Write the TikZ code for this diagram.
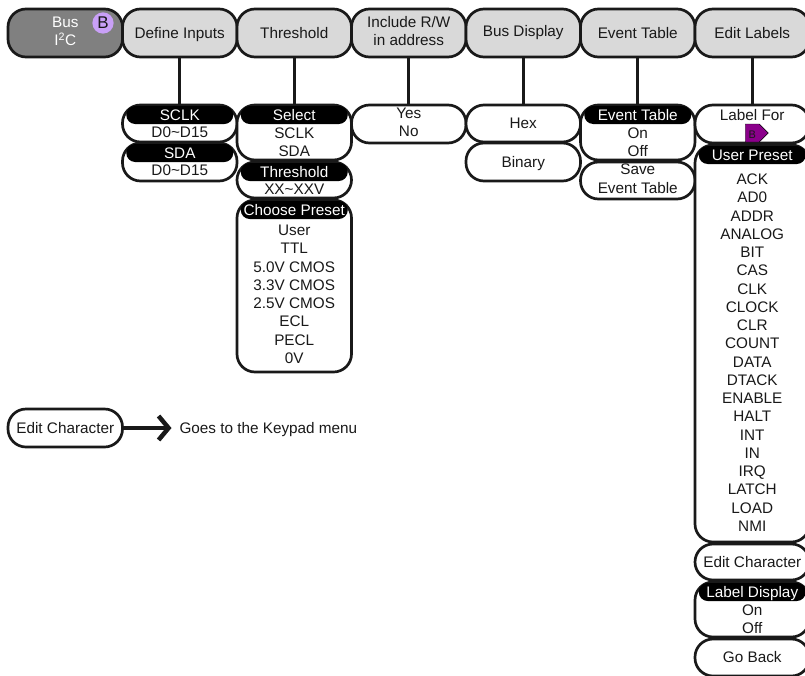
\documentclass[tikz,border=0pt]{standalone}
\usepackage{fontspec}
\setmainfont{Liberation Sans}
\usepackage{tikz}
\usetikzlibrary{positioning,shapes.symbols,arrows.meta}

\newcommand{\mstrut}{\rule[-3.6pt]{0pt}{18pt}}
\definecolor{btngray}{HTML}{D9D9D9}
\definecolor{busgray}{HTML}{808080}
\definecolor{badgepurple}{HTML}{C9A0F7}
\definecolor{tagpurple}{HTML}{8B008B}

\tikzset{
	txt/.style={inner sep=0pt, outer sep=0pt, align=center, text=black!90,
		font=\fontsize{15.3}{18.25}\selectfont, execute at begin node=\mstrut, execute at end node=\mstrut},
	btn/.style={txt, draw=black!90, line width=2.7pt, rounded corners=18pt, fill=btngray,
		minimum width=114.5pt, minimum height=48pt},
	menubox/.style={btn, fill=white},
	menuhdr/.style={txt, fill=black, text=white, rounded corners=9pt,
		minimum width=107pt, minimum height=18pt},
	conn/.style={draw=black!90, line width=2.7pt},
}

\begin{document}
\begin{tikzpicture}[x=1pt,y=1pt]
	\useasboundingbox (0,0) rectangle (805,-675);
	\clip (0,0) rectangle (805,-675);

	% top row of soft keys
	\node[btn, fill=busgray, text=white] (BusBtn) at (65.25,-33) {Bus\\I\textsuperscript{2}C};
	\node[btn, right=0pt of BusBtn] (InputsBtn) {Define Inputs};
	\node[btn, right=0pt of InputsBtn] (ThreshBtn) {Threshold};
	\node[btn, right=0pt of ThreshBtn] (AddrBtn) {Include R/W\\in address};
	\node[btn, right=0pt of AddrBtn] (DisplayBtn) {\raisebox{2pt}{Bus Display}};
	\node[btn, right=0pt of DisplayBtn] (EventBtn) {Event Table};
	\node[btn, right=0pt of EventBtn] (LabelsBtn) {Edit Labels};
	\node[txt, circle, fill=badgepurple, minimum size=19pt, font=\fontsize{17}{18}\selectfont] (BusBadge) at (103,-23) {B};

	% Define Inputs
	\node[menubox, minimum height=37pt, below=48pt of InputsBtn] (SclkBox) {};
	\node[menuhdr, below=1pt of SclkBox.north] (SclkHdr) {SCLK};
	\node[txt, below=-1pt of SclkHdr] (SclkList) {D0\textasciitilde D15};
	\node[menubox, minimum height=38pt, below=1pt of SclkBox] (SdaBox) {};
	\node[menuhdr, below=1pt of SdaBox.north] (SdaHdr) {SDA};
	\node[txt, below=-1pt of SdaHdr] (SdaList) {D0\textasciitilde D15};

	% Threshold
	\node[menubox, minimum height=55pt, below=48pt of ThreshBtn] (SelectBox) {};
	\node[menuhdr, below=1pt of SelectBox.north] (SelectHdr) {Select};
	\node[txt, below=4pt of SelectHdr] (SelectList) {SCLK\\SDA};
	\node[menubox, minimum height=36pt, below=2pt of SelectBox] (LevelBox) {};
	\node[menuhdr, below=1pt of LevelBox.north] (LevelHdr) {Threshold};
	\node[txt, below=-1pt of LevelHdr] (LevelList) {XX\textasciitilde XXV};
	\node[menubox, minimum height=172pt, below=2pt of LevelBox] (ChooseBox) {};
	\node[menuhdr, below=1pt of ChooseBox.north] (ChooseHdr) {Choose Preset};
	\node[txt, below=6pt of ChooseHdr] (ChooseList) {User\\TTL\\5.0V CMOS\\3.3V CMOS\\2.5V CMOS\\ECL\\PECL\\0V};

	% Include R/W, Bus Display
	\node[menubox, minimum height=38pt, below=48pt of AddrBtn] (YesNoBox) {Yes\\No};
	\node[menubox, minimum height=37pt, below=48pt of DisplayBtn] (HexBox) {Hex};
	\node[menubox, minimum height=38pt, below=1pt of HexBox] (BinaryBox) {Binary};

	% Event Table
	\node[menubox, minimum height=55pt, below=48pt of EventBtn] (TableBox) {};
	\node[menuhdr, below=1pt of TableBox.north] (TableHdr) {Event Table};
	\node[txt, below=4pt of TableHdr] (TableList) {On\\Off};
	\node[menubox, minimum height=37pt, below=2pt of TableBox] (SaveBox) {Save\\Event Table};

	% Edit Labels
	\node[menubox, minimum height=38pt, below=48pt of LabelsBtn] (LabelBox) {};
	\node[txt, below=1pt of LabelBox.north] (LabelFor) {Label For};
	\node[txt, signal, signal to=east, draw=black, line width=0.4pt, fill=tagpurple, minimum width=23pt, minimum height=14pt,
		font=\fontsize{11}{12}\selectfont, below=0pt of LabelFor] (LabelTag) {B};
	\node[menubox, minimum height=397pt, below=2pt of LabelBox] (PresetBox) {};
	\node[menuhdr, below=1pt of PresetBox.north] (PresetHdr) {User Preset};
	\node[txt, below=10pt of PresetHdr] (PresetList) {ACK\\AD0\\ADDR\\ANALOG\\BIT\\CAS\\CLK\\CLOCK\\CLR\\COUNT\\DATA\\DTACK\\ENABLE\\HALT\\INT\\IN\\IRQ\\LATCH\\LOAD\\NMI};
	\node[menubox, minimum height=36pt, below=2pt of PresetBox] (CharBox) {Edit Character};
	\node[menubox, minimum height=55pt, below=2pt of CharBox] (ShowBox) {};
	\node[menuhdr, below=1pt of ShowBox.north] (ShowHdr) {Label Display};
	\node[txt, below=4pt of ShowHdr] (ShowList) {On\\Off};
	\node[menubox, minimum height=37pt, below=2pt of ShowBox] (BackBox) {Go Back};

	% key to the Keypad menu
	\node[menubox, minimum height=38pt] (KeyChar) at (65.25,-428) {Edit Character};
	\node[txt, right=57pt of KeyChar] (KeypadNote) {Goes to the Keypad menu};

	\draw[conn] (InputsBtn) -- (SclkBox);
	\draw[conn] (ThreshBtn) -- (SelectBox);
	\draw[conn] (AddrBtn) -- (YesNoBox);
	\draw[conn] (DisplayBtn) -- (HexBox);
	\draw[conn] (EventBtn) -- (TableBox);
	\draw[conn] (LabelsBtn) -- (LabelBox);
	\draw[draw=black!90, line width=4.5pt, shorten >=8pt, -{Straight Barb[length=10pt,width=24pt,line width=4.5pt]}] (KeyChar) -- (KeypadNote);
\end{tikzpicture}
\end{document}
